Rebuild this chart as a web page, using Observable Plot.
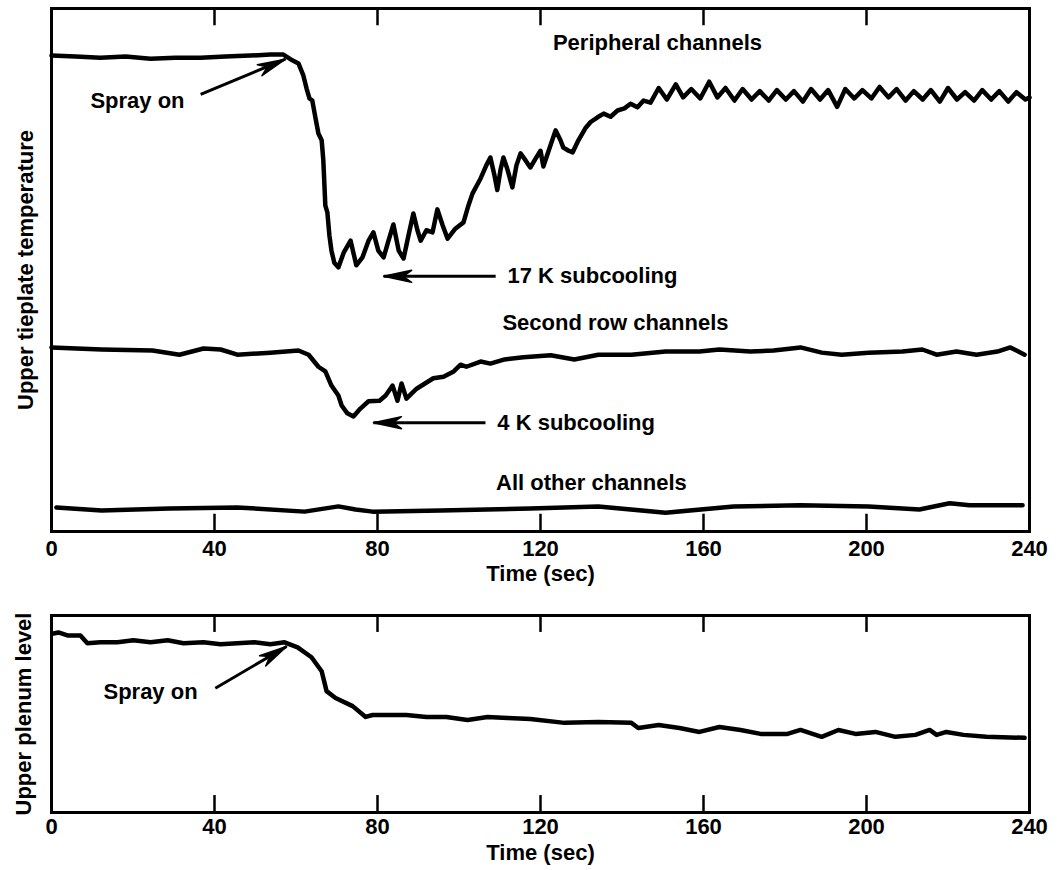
<!DOCTYPE html>
<html><head><meta charset="utf-8">
<script src="https://cdn.jsdelivr.net/npm/d3@7"></script>
<script src="https://cdn.jsdelivr.net/npm/@observablehq/plot@0.6"></script>
<style>
body{margin:0;background:#fff;}
#chart{width:1060px;}
#chart svg{display:block;overflow:visible;}
</style></head><body><div id="chart"></div>
<script>
// ---- data (time in s, arbitrary level units 0..100) ----
const xTicks = [0, 40, 80, 120, 160, 200, 240];
const innerTicks = [40, 80, 120, 160, 200];

const peripheral = [[0,91.0],[5.9,90.8],[12,90.6],[18.2,90.8],[24.3,90.4],[30.4,90.6],[36.6,90.6],[42.7,90.8],[48.8,91.0],[53.7,91.2],[56.9,91.2],[59.1,90.1],[60.6,89.5],[61.8,87.2],[62.6,84.7],[63.3,82.8],[64.0,82.4],[64.8,79.0],[65.5,76.1],[66.3,74.8],[66.7,71.0],[67.2,62.3],[67.7,61.0],[68.2,56.6],[68.7,53.7],[69.4,51.4],[70.4,50.5],[71.7,53.3],[73.4,55.6],[74.8,50.9],[76.3,52.4],[77.8,55.6],[79.0,57.2],[80.2,53.7],[81.5,52.4],[82.7,55.6],[83.9,58.7],[85.2,53.7],[86.4,52.2],[87.6,56.6],[88.8,60.8],[89.8,57.6],[90.6,55.6],[92.0,57.6],[93.5,57.2],[94.7,61.6],[96.0,58.5],[97.2,56.0],[99.1,57.9],[101.1,59.1],[102.3,62.3],[103.3,64.6],[105.3,67.5],[106.7,70.0],[107.7,71.5],[108.7,68.1],[109.4,65.3],[110.2,69.2],[110.9,71.5],[111.9,69.2],[113.1,65.8],[114.1,70.0],[115.1,72.3],[116.3,71.0],[117.5,69.6],[118.8,71.3],[120.0,72.8],[120.7,69.8],[122.0,72.8],[123.7,76.7],[124.9,74.8],[125.6,73.4],[126.9,72.8],[127.9,72.5],[129.3,74.8],[131.0,77.1],[132.3,78.3],[134.0,79.2],[135.5,79.9],[137.2,79.3],[138.9,80.5],[140.6,80.9],[142.1,81.8],[143.8,81.1],[145.3,82.4],[147.0,82.0],[149.0,84.8],[151.0,82.6],[153.2,85.5],[155.0,83.0],[157.0,84.6],[159.2,82.8],[161.4,86.0],[163.4,83.0],[165.4,84.8],[167.6,82.4],[169.6,84.6],[171.8,82.6],[173.8,84.2],[176.0,82.4],[178.0,84.4],[180.2,82.6],[182.2,84.2],[184.4,82.2],[186.4,84.6],[188.6,82.6],[190.6,84.4],[192.8,81.2],[194.8,84.6],[197.0,82.8],[199.0,84.4],[201.2,82.8],[203.2,85.0],[205.4,83.0],[207.4,84.6],[209.6,82.4],[211.6,84.2],[213.8,82.6],[215.8,84.4],[218.0,82.2],[220.0,84.8],[222.2,82.6],[224.2,84.0],[226.4,82.4],[228.4,84.4],[230.6,82.6],[232.6,84.2],[234.8,82.2],[236.8,84.0],[239.0,82.6],[240.0,83.0]];

const secondRow = [[0,35.2],[12.3,34.8],[24.8,34.6],[31.4,33.8],[37.3,35.0],[41.5,34.8],[45.6,33.8],[53.7,34.2],[60.6,34.6],[63.1,33.8],[65.5,31.5],[67.2,30.6],[68.7,27.9],[70.4,26.0],[71.2,24.1],[72.6,22.6],[74.1,22.0],[75.8,23.5],[77.8,24.9],[80.5,25.0],[82.0,26.0],[83.7,27.9],[84.9,25.0],[85.9,28.3],[87.1,25.4],[89.6,27.3],[93.7,29.3],[96.2,29.6],[98.7,30.6],[100.4,31.9],[101.8,31.5],[105.3,32.5],[107.7,32.1],[111.2,32.9],[115.8,33.3],[122.5,33.7],[128.3,32.9],[134.2,33.8],[142.3,33.8],[150.7,34.4],[159.0,34.4],[163.9,34.8],[171.5,34.4],[177.2,34.6],[183.8,35.2],[189.0,34.2],[193.9,33.8],[200.5,34.2],[208.8,34.4],[213.7,34.8],[217.2,33.8],[222.1,34.4],[227.0,33.8],[232.1,34.4],[235.3,35.2],[238.8,33.8]];

const allOther = [[1.2,4.6],[12.3,4.0],[29.0,4.4],[45.6,4.6],[62.1,3.8],[70.4,4.8],[74.6,4.2],[78.8,3.8],[95.5,4.0],[117.5,4.4],[134.2,4.8],[150.7,3.6],[167.4,4.8],[183.8,5.0],[200.5,4.8],[213.0,4.2],[220.4,5.4],[225.3,5.0],[238.3,5.0]];

const plenum = [[0.5,90.9],[1.7,91.4],[3.9,89.9],[7.1,89.9],[8.8,85.9],[12.0,86.4],[16.2,86.4],[20.1,87.4],[24.3,86.4],[28.5,87.4],[32.4,85.9],[37.3,86.4],[41.5,85.4],[45.6,85.9],[49.8,86.4],[53.7,85.4],[57.2,86.4],[60.4,83.8],[63.8,78.8],[66.3,71.7],[67.5,61.6],[69.7,58.1],[73.9,54.0],[77.1,48.5],[78.8,49.5],[82.0,49.5],[87.1,49.5],[92.0,48.5],[96.9,48.5],[102.1,47.0],[107.0,48.5],[111.9,48.0],[117.5,47.5],[125.9,45.5],[134.2,46.0],[142.3,45.5],[144.0,42.9],[149.0,44.4],[154.1,42.9],[159.0,40.9],[163.9,43.4],[169.1,41.9],[174.0,39.9],[180.6,39.9],[183.8,41.9],[189.0,38.4],[193.1,41.9],[197.3,39.9],[202.2,40.9],[207.1,38.4],[212.0,39.4],[215.5,41.9],[217.2,39.4],[219.6,40.9],[223.8,39.4],[229.4,38.4],[238.8,37.9]];

// ---- drawing ----
const font = '"Liberation Sans", Arial, Helvetica, sans-serif';
const rows = a => a.map(([t, v]) => ({t, v}));
const lineOpts = {x: "t", y: "v", stroke: "#000", strokeWidth: 4.5, strokeLinejoin: "round", strokeLinecap: "round"};
const txt = {fontSize: 22, fontWeight: "bold", fill: "#000"};

// filled, notched arrowhead whose tip is at the vector's end
const headShape = {
  draw(context, l) {
    context.moveTo(0, -l);
    context.lineTo(6, 0);
    context.lineTo(0, -l * 0.3);
    context.lineTo(-6, 0);
    context.closePath();
  }
};
function arrowMarks(a, angle) {
  return [
    Plot.link([a], {x1: "x1", y1: "y1", x2: "x2", y2: "y2", stroke: "#000", strokeWidth: 3}),
    Plot.vector([a], {x: "x2", y: "y2", length: 28, rotate: angle, anchor: "end", shape: headShape, fill: "#000", stroke: "#000", strokeWidth: 1.5})
  ];
}

function frameMarks(tickLen) {
  return [
    Plot.frame({stroke: "#000", strokeWidth: 3}),
    Plot.ruleX(innerTicks, {x: d => d, y1: 0, y2: tickLen, stroke: "#000", strokeWidth: 2.5}),
    Plot.ruleX(innerTicks, {x: d => d, y1: 100 - tickLen, y2: 100, stroke: "#000", strokeWidth: 2.5})
  ];
}

const topPlot = Plot.plot({
  width: 1060, height: 600,
  marginLeft: 51, marginRight: 31, marginTop: 8, marginBottom: 69,
  style: {fontFamily: font, fontSize: "22px", fontWeight: "bold", color: "#000", background: "#fff", overflow: "visible"},
  x: {domain: [0, 240]},
  y: {domain: [0, 100], axis: null},
  marks: [
    Plot.axisX({ticks: xTicks, tickSize: 0, tickPadding: 9, label: null, fontSize: 22, fontWeight: "bold"}),
    ...frameMarks(3.3),
    Plot.line(rows(peripheral), lineOpts),
    Plot.line(rows(secondRow), lineOpts),
    Plot.line(rows(allOther), lineOpts),
    Plot.text(["Peripheral channels"], {...txt, x: 148.7, y: 93.5}),
    Plot.text(["17 K subcooling"], {...txt, x: 111.9, y: 48.8, textAnchor: "start"}),
    ...arrowMarks({x1: 109, y1: 48.8, x2: 81.5, y2: 48.8}, -90),
    Plot.text(["Second row channels"], {...txt, x: 138.4, y: 39.8}),
    Plot.text(["4 K subcooling"], {...txt, x: 109.4, y: 20.8, textAnchor: "start"}),
    ...arrowMarks({x1: 106.5, y1: 20.8, x2: 79.0, y2: 20.8}, -90),
    Plot.text(["All other channels"], {...txt, x: 132.5, y: 9.2}),
    Plot.text(["Spray on"], {...txt, x: 21.1, y: 82.4}),
    ...arrowMarks({x1: 36.6, y1: 83.6, x2: 57.4, y2: 90.3}, 67),
    Plot.text(["Upper tieplate temperature"], {...txt, frameAnchor: "left", textAnchor: "middle", rotate: -90, dx: -26}),
    Plot.text(["Time (sec)"], {...txt, frameAnchor: "bottom", dy: 49})
  ]
});

const bottomPlot = Plot.plot({
  width: 1060, height: 270,
  marginLeft: 51, marginRight: 31, marginTop: 15, marginBottom: 58,
  style: {fontFamily: font, fontSize: "22px", fontWeight: "bold", color: "#000", background: "#fff", overflow: "visible"},
  x: {domain: [0, 240]},
  y: {domain: [0, 100], axis: null},
  marks: [
    Plot.axisX({ticks: xTicks, tickSize: 0, tickPadding: 6, label: null, fontSize: 22, fontWeight: "bold"}),
    ...frameMarks(8.6),
    Plot.line(rows(plenum), lineOpts),
    Plot.text(["Spray on"], {...txt, x: 24.3, y: 61.1}),
    ...arrowMarks({x1: 40.2, y1: 63.1, x2: 57.7, y2: 84.3}, 59),
    Plot.text(["Upper plenum level"], {...txt, frameAnchor: "left", textAnchor: "middle", rotate: -90, dx: -28}),
    Plot.text(["Time (sec)"], {...txt, frameAnchor: "bottom", dy: 47})
  ]
});

const host = document.getElementById("chart");
host.appendChild(topPlot);
host.appendChild(bottomPlot);
</script>
</body></html>
